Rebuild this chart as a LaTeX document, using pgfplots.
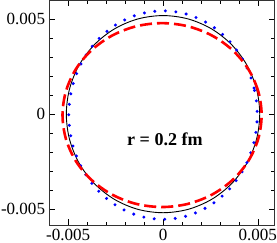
\documentclass[border=0pt]{standalone}
\usepackage{pgfplots}
\pgfplotsset{compat=1.18}
\usepackage{fontspec}
\setmainfont{Liberation Serif}
\begin{document}
\begin{tikzpicture}
\begin{axis}[
  scale only axis, width=225pt, height=224pt,
  xmin=-6e-3, xmax=5.9e-3, ymin=-5.85e-3, ymax=6e-3,
  scaled ticks=false,
  xtick={-5e-3,0,5e-3}, ytick={-5e-3,0,5e-3},
  xticklabels={-0.005,0,0.005}, yticklabels={-0.005,0,0.005},
  minor tick num=4,
  tick align=inside, major tick length=6pt, minor tick length=3.5pt,
  every tick/.style={black, line width=0.6pt},
  axis line style={line width=0.8pt, black!80},
  tick label style={font=\fontsize{17}{17}\selectfont, inner sep=0pt},
  xticklabel style={inner ysep=2pt, yshift=-2pt},
  yticklabel style={inner xsep=1pt, xshift=-3pt},
]
\addplot[black, line width=0.9pt, smooth cycle, tension=0.55] coordinates {
(5.1e-3,0) (4.926e-3,1.346e-3) (4.417e-3,2.6e-3) (3.606e-3,3.677e-3) (2.55e-3,4.503e-3) (1.32e-3,5.023e-3)
(0,5.2e-3) (-1.32e-3,5.023e-3) (-2.55e-3,4.503e-3) (-3.606e-3,3.677e-3) (-4.417e-3,2.6e-3) (-4.926e-3,1.346e-3)
(-5.1e-3,0) (-4.926e-3,-1.346e-3) (-4.417e-3,-2.6e-3) (-3.606e-3,-3.677e-3) (-2.55e-3,-4.503e-3) (-1.32e-3,-5.023e-3)
(0,-5.2e-3) (1.32e-3,-5.023e-3) (2.55e-3,-4.503e-3) (3.606e-3,-3.677e-3) (4.417e-3,-2.6e-3) (4.926e-3,-1.346e-3)
};
\addplot[blue, line width=3.3pt, line cap=round, dash pattern=on 0pt off 10.5pt, smooth cycle, tension=0.55] coordinates {
(4.97e-3,-0.05e-3) (4.801e-3,1.374e-3) (4.304e-3,2.70e-3) (3.514e-3,3.839e-3) (2.485e-3,4.713e-3) (1.286e-3,5.263e-3)
(0,5.45e-3) (-1.286e-3,5.263e-3) (-2.485e-3,4.713e-3) (-3.514e-3,3.839e-3) (-4.304e-3,2.70e-3) (-4.801e-3,1.374e-3)
(-4.97e-3,-0.05e-3) (-4.801e-3,-1.474e-3) (-4.304e-3,-2.80e-3) (-3.514e-3,-3.939e-3) (-2.485e-3,-4.813e-3) (-1.286e-3,-5.363e-3)
(0,-5.55e-3) (1.286e-3,-5.363e-3) (2.485e-3,-4.813e-3) (3.514e-3,-3.939e-3) (4.304e-3,-2.80e-3) (4.801e-3,-1.474e-3)
};
\addplot[red, line width=2.6pt, dash pattern=on 12pt off 5pt, smooth cycle, tension=0.55] coordinates {
(5.20e-3,-0.05e-3) (5.021e-3,1.205e-3) (4.497e-3,2.375e-3) (3.662e-3,3.379e-3) (2.575e-3,4.150e-3) (1.309e-3,4.635e-3)
(-0.05e-3,4.80e-3) (-1.409e-3,4.635e-3) (-2.675e-3,4.150e-3) (-3.762e-3,3.379e-3) (-4.597e-3,2.375e-3) (-5.121e-3,1.205e-3)
(-5.30e-3,-0.05e-3) (-5.121e-3,-1.305e-3) (-4.597e-3,-2.475e-3) (-3.762e-3,-3.479e-3) (-2.675e-3,-4.250e-3) (-1.409e-3,-4.735e-3)
(-0.05e-3,-4.90e-3) (1.309e-3,-4.735e-3) (2.575e-3,-4.250e-3) (3.662e-3,-3.479e-3) (4.497e-3,-2.475e-3) (5.021e-3,-1.305e-3)
};
\node[font=\bfseries\fontsize{18}{18}\selectfont] at (axis cs:0.1e-3,-1.33e-3) {r = 0.2 fm};
\end{axis}
\end{tikzpicture}
\end{document}
